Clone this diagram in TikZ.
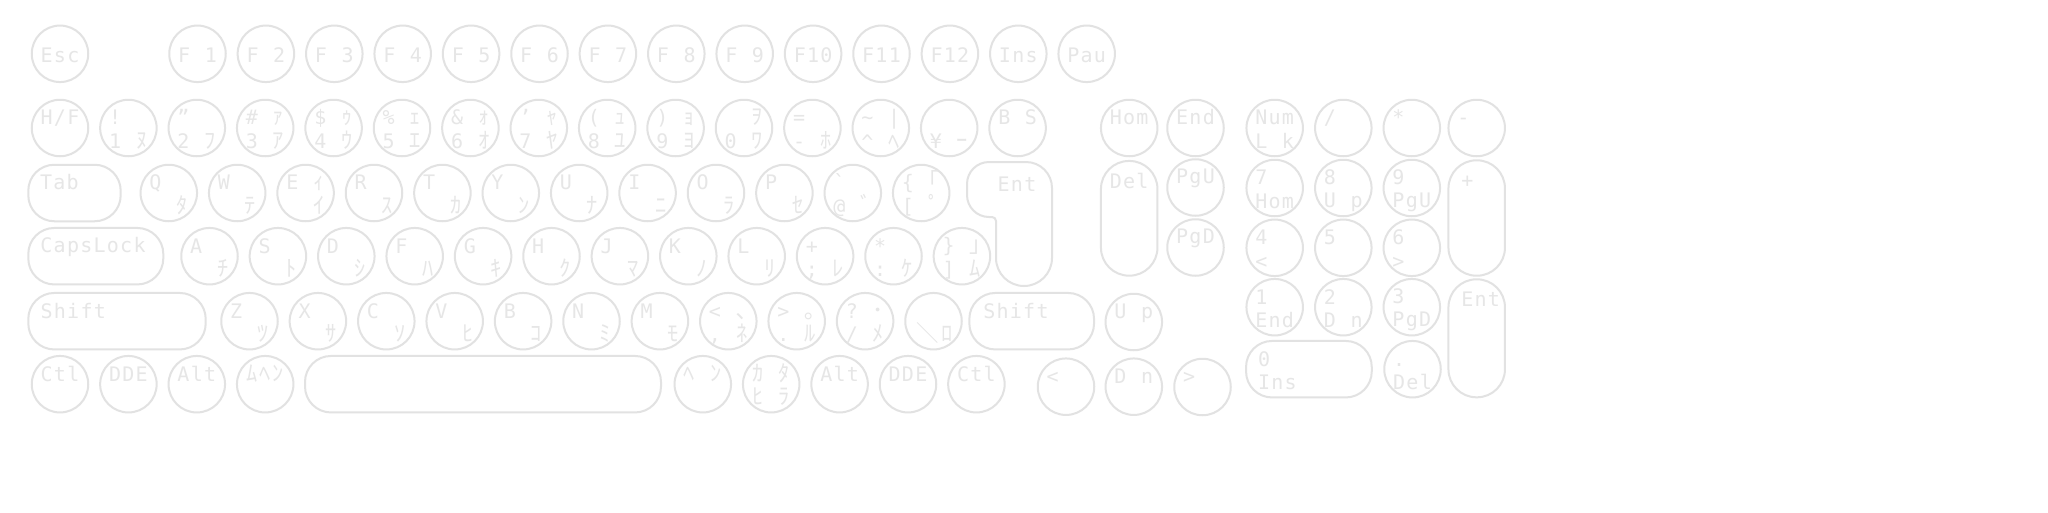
\documentclass[tikz,border=0pt]{standalone}
\usepackage{fontspec}
\usetikzlibrary{positioning}
\newfontfamily\keyfont{DejaVu Sans Mono}
\newfontfamily\kanafont[Scale=1.12]{Noto Sans CJK JP}
\definecolor{keygray}{RGB}{226,226,226}
\definecolor{labelgray}{RGB}{230,230,230}
\newlength\cellw
\setlength\cellw{13.3pt}
\newcommand\kstrut{\rule[-3.2pt]{0pt}{23.5pt}}
\newcommand\wbs{\makebox[0pt][l]{\hspace{-3.5pt}\kanafont ＼}}
\def\cells#1{\cellsnext#1\relax}
\def\cellsnext#1{\ifx#1\relax\else\cellput{#1}\expandafter\cellsnext\fi}
\def\cellput#1{\makebox[\cellw]{\ifcat\relax\noexpand#1#1\else%
  \ifnum`#1=95 \else\ifnum`#1>"3000 {\kanafont#1}\else#1\fi\fi\fi}}
\newcommand\keyone[1]{\hbox to 0pt{\hss\vbox to 0pt{\vss\offinterlineskip%
  \hbox to 3\cellw{\kstrut\cells{#1}\hfil}\vss}\hss}}
\newcommand\keytwo[2]{\hbox to 0pt{\hss\vbox to 0pt{\vss\offinterlineskip%
  \hbox to 3\cellw{\kstrut\cells{#1}\hfil}%
  \hbox to 3\cellw{\kstrut\cells{#2}\hfil}\vss}\hss}}
\newcommand\keywide[3]{\hbox to 0pt{\hss\vbox to 0pt{\vss\offinterlineskip%
  \hbox to #1pt{\kstrut\cells{#2}\hfil}%
  \hbox to #1pt{\kstrut\cells{#3}\hfil}\vss}\hss}}
\newcommand\keytall[4][0pt]{\hbox to 0pt{\hss\vbox to 0pt{\vss\offinterlineskip%
  \hbox to 3\cellw{\kstrut\kern#1\cells{#3}\hfil}%
  \hbox to 3\cellw{\kstrut\kern#1\cells{#4}\hfil}\kern#2pt\vss}\hss}}

\begin{document}
\begin{tikzpicture}[x=1pt, y=-1pt, node distance=9.9pt,
    keyc/.style={circle, draw=keygray, line width=2pt, minimum size=56.5pt, inner sep=0pt,
      outer sep=1pt, text=labelgray, font=\keyfont\fontsize{20}{20}\selectfont},
    keyw/.style={keyc, rectangle, rounded corners=26pt, minimum height=56.5pt},
    keyt/.style={keyc, rectangle, rounded corners=28pt, minimum width=56.5pt},
    keyline/.style={draw=keygray, line width=2pt}]
    \fill[white] (0,0) rectangle (2048,512);
    \useasboundingbox (0,0) rectangle (2048,512);

    \node[keyc] (esc) at (60,53.8) {\keyone{Esc}};
    \node[keyc] (f1) at (197.5,53.8) {\keyone{F_1}};
    \node[keyc, right=of f1] (f2) {\keyone{F_2}};
    \node[keyc, right=of f2] (f3) {\keyone{F_3}};
    \node[keyc, right=of f3] (f4) {\keyone{F_4}};
    \node[keyc, right=of f4] (f5) {\keyone{F_5}};
    \node[keyc, right=of f5] (f6) {\keyone{F_6}};
    \node[keyc, right=of f6] (f7) {\keyone{F_7}};
    \node[keyc, right=of f7] (f8) {\keyone{F_8}};
    \node[keyc, right=of f8] (f9) {\keyone{F_9}};
    \node[keyc, right=of f9] (f10) {\keyone{F10}};
    \node[keyc, right=of f10] (f11) {\keyone{F11}};
    \node[keyc, right=of f11] (f12) {\keyone{F12}};
    \node[keyc, right=of f12] (ins) {\keyone{Ins}};
    \node[keyc, right=of ins] (pau) {\keyone{Pau}};

    \node[keyc] (hf) at (60,128) {\keytwo{H/F}{}};
    \node[keyc, right=of hf] (n1) {\keytwo{!}{1_ﾇ}};
    \node[keyc, right=of n1] (n2) {\keytwo{”}{2_ﾌ}};
    \node[keyc, right=of n2] (n3) {\keytwo{\#_ｧ}{3_ｱ}};
    \node[keyc, right=of n3] (n4) {\keytwo{\$_ｩ}{4_ｳ}};
    \node[keyc, right=of n4] (n5) {\keytwo{\%_ｪ}{5_ｴ}};
    \node[keyc, right=of n5] (n6) {\keytwo{\&_ｫ}{6_ｵ}};
    \node[keyc, right=of n6] (n7) {\keytwo{’_ｬ}{7_ﾔ}};
    \node[keyc, right=of n7] (n8) {\keytwo{(_ｭ}{8_ﾕ}};
    \node[keyc, right=of n8] (n9) {\keytwo{)_ｮ}{9_ﾖ}};
    \node[keyc, right=of n9] (n0) {\keytwo{__ｦ}{0_ﾜ}};
    \node[keyc, right=of n0] (minus) {\keytwo{=}{-_ﾎ}};
    \node[keyc, right=of minus] (caret) {\keytwo{\textasciitilde_|}{\textasciicircum_ﾍ}};
    \node[keyc, right=of caret] (yen) {\keytwo{}{¥_ｰ}};
    \node[keyc, right=of yen] (bs) {\keytwo{B_S}{}};

    \node[keyw, minimum width=92.4pt] (tab) at (74.5,193) {\keywide{70}{Tab}{}};
    \node[keyc] (q) at (168.8,193) {\keytwo{Q}{__ﾀ}};
    \node[keyc, right=of q] (w) {\keytwo{W}{__ﾃ}};
    \node[keyc, right=of w] (e) {\keytwo{E_ｨ}{__ｲ}};
    \node[keyc, right=of e] (r) {\keytwo{R}{__ｽ}};
    \node[keyc, right=of r] (t) {\keytwo{T}{__ｶ}};
    \node[keyc, right=of t] (y) {\keytwo{Y}{__ﾝ}};
    \node[keyc, right=of y] (u) {\keytwo{U}{__ﾅ}};
    \node[keyc, right=of u] (i) {\keytwo{I}{__ﾆ}};
    \node[keyc, right=of i] (o) {\keytwo{O}{__ﾗ}};
    \node[keyc, right=of o] (p) {\keytwo{P}{__ｾ}};
    \node[keyc, right=of p] (atkey) {\keytwo{`}{@_ﾞ}};
    \node[keyc, right=of atkey] (lbrack) {\keytwo{\{_｢}{[_ﾟ}};
    \draw[keyline] (989,162) -- (1026,162) arc (-90:0:26) -- (1052,258) arc (0:180:28)
      -- (996,221) arc (0:-90:4) -- (989,217) arc (90:180:22) -- (967,184) arc (180:270:22) -- cycle;
    \node[keyc, draw=none] (ent) at (1017,183) {\keyone{Ent}};

    \node[keyw, minimum width=135pt] (caps) at (95.8,256.2) {\keywide{112}{CapsLock}{}};
    \node[keyc] (a) at (209.5,256.2) {\keytwo{A}{__ﾁ}};
    \node[keyc, right=of a] (s) {\keytwo{S}{__ﾄ}};
    \node[keyc, right=of s] (d) {\keytwo{D}{__ｼ}};
    \node[keyc, right=of d] (f) {\keytwo{F}{__ﾊ}};
    \node[keyc, right=of f] (g) {\keytwo{G}{__ｷ}};
    \node[keyc, right=of g] (h) {\keytwo{H}{__ｸ}};
    \node[keyc, right=of h] (j) {\keytwo{J}{__ﾏ}};
    \node[keyc, right=of j] (k) {\keytwo{K}{__ﾉ}};
    \node[keyc, right=of k] (l) {\keytwo{L}{__ﾘ}};
    \node[keyc, right=of l] (semi) {\keytwo{+}{;_ﾚ}};
    \node[keyc, right=of semi] (colon) {\keytwo{*}{:_ｹ}};
    \node[keyc, right=of colon] (rbrack) {\keytwo{\}_｣}{]_ﾑ}};

    \node[keyw, minimum width=177.4pt] (lshift) at (117,321.2) {\keywide{154}{Shift}{}};
    \node[keyc] (z) at (249.5,321.2) {\keytwo{Z}{__ﾂ}};
    \node[keyc, right=of z] (x) {\keytwo{X}{__ｻ}};
    \node[keyc, right=of x] (c) {\keytwo{C}{__ｿ}};
    \node[keyc, right=of c] (v) {\keytwo{V}{__ﾋ}};
    \node[keyc, right=of v] (b) {\keytwo{B}{__ｺ}};
    \node[keyc, right=of b] (n) {\keytwo{N}{__ﾐ}};
    \node[keyc, right=of n] (m) {\keytwo{M}{__ﾓ}};
    \node[keyc, right=of m] (comma) {\keytwo{<_､}{,_ﾈ}};
    \node[keyc, right=of comma] (period) {\keytwo{>_｡}{._ﾙ}};
    \node[keyc, right=of period] (slash) {\keytwo{?_･}{/_ﾒ}};
    \node[keyc, right=of slash] (bsl) {\keytwo{}{\wbs_ﾛ}};
    \node[keyw, minimum width=124.7pt] (rshift) at (1031.7,321.2) {\keywide{98}{Shift}{}};

    \node[keyc] (lctl) at (60,384.2) {\keytwo{Ctl}{}};
    \node[keyc, right=of lctl] (ldde) {\keytwo{DDE}{}};
    \node[keyc, right=of ldde] (lalt) {\keytwo{Alt}{}};
    \node[keyc, right=of lalt] (muhen) {\keytwo{ﾑﾍﾝ}{}};
    \node[keyw, minimum width=356pt] (space) at (483,384.2) {};
    \node[keyc] (henkan) at (702.8,384.2) {\keytwo{ﾍ_ﾝ}{}};
    \node[keyc, right=of henkan] (kana) {\keytwo{ｶ_ﾀ}{ﾋ_ﾗ}};
    \node[keyc, right=of kana] (ralt) {\keytwo{Alt}{}};
    \node[keyc, right=of ralt] (rdde) {\keytwo{DDE}{}};
    \node[keyc, right=of rdde] (rctl) {\keytwo{Ctl}{}};

    \node[keyc] (home) at (1129.2,128) {\keytwo{Hom}{}};
    \node[keyc] (endk) at (1195.5,128) {\keytwo{End}{}};
    \node[keyt, minimum height=114.7pt] (del) at (1129.2,218.3) {\keytall{53.7}{Del}{}};
    \node[keyc] (pgup) at (1195.5,187.5) {\keytwo{PgU}{}};
    \node[keyc] (pgdn) at (1195.5,247.5) {\keytwo{PgD}{}};
    \node[keyc] (uarr) at (1133.8,322) {\keytwo{U_p}{}};
    \node[keyc] (larr) at (1066,386.7) {\keytwo{<}{}};
    \node[keyc] (darr) at (1133.8,386.7) {\keytwo{D_n}{}};
    \node[keyc] (rarr) at (1202.5,387) {\keytwo{>}{}};

    \node[keyc] (numlk) at (1274.7,128) {\keytwo{Num}{L_k}};
    \node[keyc] (pslash) at (1343.3,128) {\keytwo{/}{}};
    \node[keyc] (pstar) at (1411.8,128) {\keytwo{*}{}};
    \node[keyc] (pminus) at (1476.7,128) {\keytwo{-}{}};
    \node[keyc] (p7) at (1274.7,188) {\keytwo{7}{Hom}};
    \node[keyc] (p8) at (1343.3,188) {\keytwo{8}{U_p}};
    \node[keyc] (p9) at (1411.8,188) {\keytwo{9}{PgU}};
    \node[keyt, minimum height=115.4pt] (pplus) at (1476.7,218) {\keytall[4pt]{54.4}{+}{}};
    \node[keyc] (p4) at (1274.7,247.8) {\keytwo{4}{<}};
    \node[keyc] (p5) at (1343.3,247.8) {\keytwo{5}{}};
    \node[keyc] (p6) at (1411.8,247.8) {\keytwo{6}{>}};
    \node[keyc] (p1) at (1274.7,307.2) {\keytwo{1}{End}};
    \node[keyc] (p2) at (1343.3,307.2) {\keytwo{2}{D_n}};
    \node[keyc] (p3) at (1411.8,307.2) {\keytwo{3}{PgD}};
    \node[keyt, minimum height=118pt] (pent) at (1476.7,338.3) {\keytall[4pt]{57}{Ent}{}};
    \node[keyw, minimum width=125.7pt] (p0) at (1308.9,369.2) {\keywide{103}{0}{Ins}};
    \node[keyc] (pdot) at (1412.5,369.2) {\keytwo{.}{Del}};
\end{tikzpicture}
\end{document}
